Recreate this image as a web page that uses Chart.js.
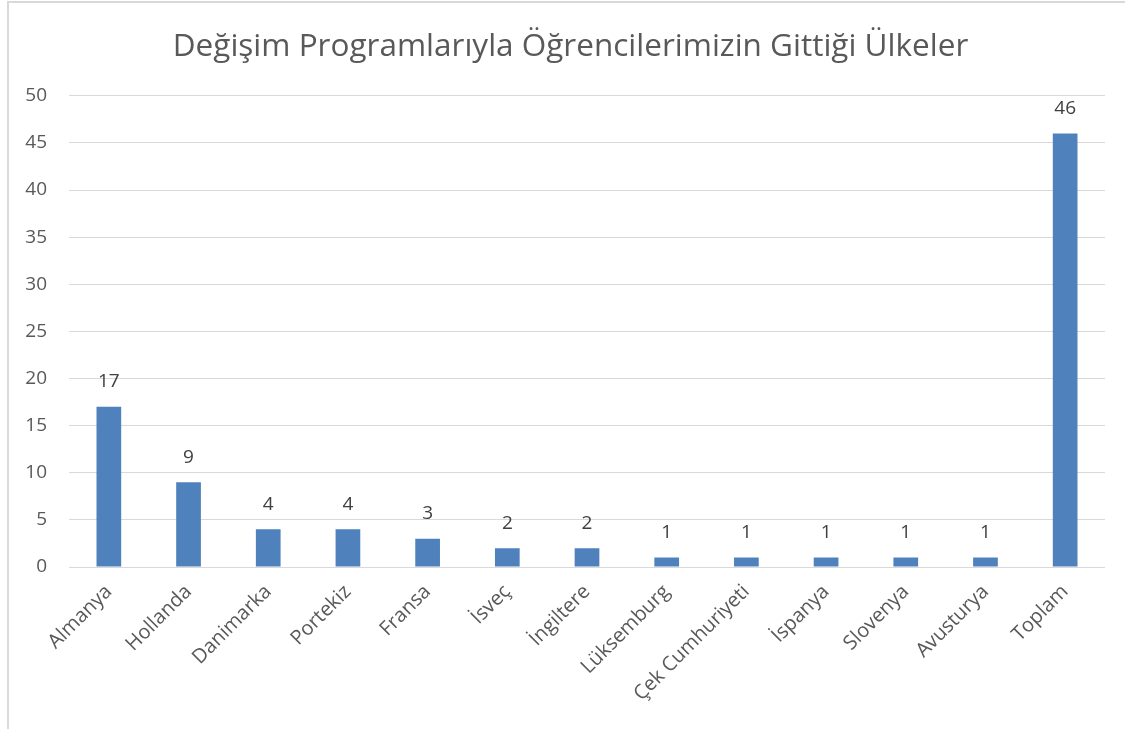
<!DOCTYPE html>
<html><head><meta charset="utf-8">
<script src="https://cdn.jsdelivr.net/npm/chart.js@4"></script>
<style>
html,body{margin:0;padding:0;background:#fff;}
#wrap{position:absolute;left:0;top:0;width:1125px;height:729px;}
#frame{position:absolute;left:7px;top:1px;width:1130px;height:740px;border:2px solid #D9D9D9;box-sizing:border-box;}
</style></head>
<body>
<div id="wrap"><div id="frame"></div><canvas id="c" width="1125" height="729"></canvas></div>
<script>
const titleText = 'Değişim Programlarıyla Öğrencilerimizin Gittiği Ülkeler';
const categories = ['Almanya','Hollanda','Danimarka','Portekiz','Fransa','İsveç','İngiltere','Lüksemburg','Çek Cumhuriyeti','İspanya','Slovenya','Avusturya','Toplam'];
const values = [17,9,4,4,3,2,2,1,1,1,1,1,46];
const yTicks = [0,5,10,15,20,25,30,35,40,45,50];

const FONT = "'Open Sans', sans-serif";
const labelPlugin = {
  id:'barLabels',
  afterLayout(chart){
    if(chart.titleBlock){ chart.titleBlock.left += 14; chart.titleBlock.right += 14; }
  },
  afterDatasetsDraw(chart){
    const ctx = chart.ctx;
    const meta = chart.getDatasetMeta(0);
    ctx.save();
    ctx.font = "19px " + FONT;
    ctx.fillStyle = '#404040';
    ctx.textAlign = 'center';
    ctx.textBaseline = 'middle';
    meta.data.forEach((bar,i)=>{
      ctx.fillText(String(values[i]), bar.x, bar.y - 25);
    });
    ctx.restore();
  }
};

new Chart(document.getElementById('c'),{
  type:'bar',
  data:{labels:categories,datasets:[{data:values,backgroundColor:'#4F81BD',borderWidth:0,barPercentage:0.31,categoryPercentage:1}]},
  options:{
    responsive:false,animation:false,devicePixelRatio:1,
    layout:{padding:{left:8,right:20,top:0,bottom:0}},
    plugins:{
      legend:{display:false},tooltip:{enabled:false},
      title:{display:true,text:titleText,color:'#595959',font:{family:FONT,size:31.5,weight:'normal'},padding:{top:28,bottom:30}}
    },
    scales:{
      x:{
        grid:{display:false,drawTicks:false},
        border:{display:false},
        ticks:{color:'#595959',font:{family:FONT,size:20},minRotation:45,maxRotation:45,padding:13,autoSkip:false},
        afterFit(s){s.height=162;}
      },
      y:{
        min:0,max:50,
        afterBuildTicks(s){s.ticks=yTicks.map(v=>({value:v}));},
        grid:{color:'#D9D9D9',lineWidth:1,drawTicks:false},
        border:{display:false},
        ticks:{color:'#595959',font:{family:FONT,size:19},padding:22},
        afterFit(s){s.width=61;}
      }
    }
  },
  plugins:[labelPlugin]
});
</script>
</body></html>
